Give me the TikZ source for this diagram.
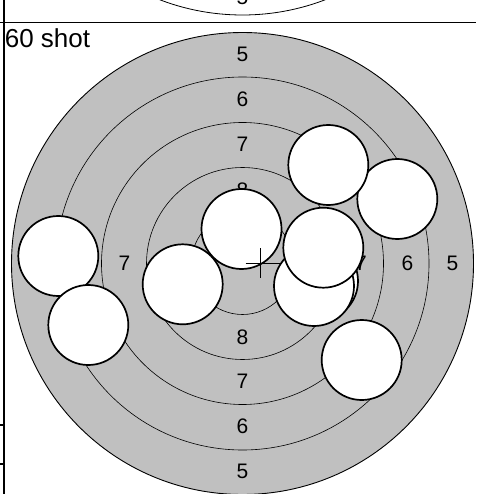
\documentclass[tikz,border=0pt]{standalone}
\usepackage{fontspec}
\setmainfont{Liberation Sans}
\usepackage{xcolor}
\usetikzlibrary{positioning}
\definecolor{targetgray}{HTML}{C0C0C0}

\begin{document}
\begin{tikzpicture}[
  x=1pt, y=-1pt,
  ring/.style={draw, line width=0.6pt},
  shot/.style={circle, draw, fill=white, line width=1.7pt, minimum size=80pt, inner sep=0pt},
  lbl/.style={font=\fontsize{21}{21}\selectfont, inner sep=0pt},
  panelrule/.style={line width=1.2pt},
  crosshair/.style={line width=1pt},
]
\clip (0,0) rectangle (476,494);
\coordinate (prev) at (242.5,-216);
\coordinate (centre) at (242.5,263.5);
% previous panel
\draw[line width=0.8pt] (prev) circle (231pt);
\node[lbl] (p5) at (242.5,-3) {5};
\draw[panelrule] (0,22.7) -- (476,22.7);
\draw[panelrule] (4,0) -- (4,494);
\draw[panelrule] (0,425) -- (4,425);
\draw[panelrule] (0,464) -- (4,464);
\node[font=\fontsize{26}{26}\selectfont, inner sep=0pt, anchor=base west] (title) at (4.6,47.7) {60 shot};
% target
\fill[targetgray] (centre) circle (231pt);
\draw[line width=0.9pt] (centre) circle (231pt);
\draw[ring] (centre) circle (186.5pt);
\draw[ring] (centre) circle (141pt);
\draw[ring] (centre) circle (96pt);
\draw[ring] (centre) circle (51pt);
\node[lbl] (n5) at (242.5,54) {5};
\node[lbl] (n6) at (242.5,99) {6};
\node[lbl] (n7) at (242.5,144) {7};
\node[lbl] (n8) at (242.5,190) {8};
\node[lbl] (s8) at (242.5,337) {8};
\node[lbl] (s7) at (242.5,381) {7};
\node[lbl] (s6) at (242.5,426) {6};
\node[lbl] (s5) at (242.5,471) {5};
\node[lbl] (w5) at (33,263.5) {5};
\node[lbl] (w6) at (78,263.5) {6};
\node[lbl] (w7) at (124.5,263.5) {7};
\node[lbl] (w8) at (169,263.5) {8};
\node[lbl] (e8) at (316,263.5) {8};
\node[lbl] (e7) at (361,263.5) {7};
\node[lbl] (e6) at (407.5,263.5) {6};
\node[lbl] (e5) at (452.5,263.5) {5};
% shots
\node[shot] (hitA) at (58.3,256) {};
\node[shot] (hitB) at (88.3,325) {};
\node[shot] (hitC) at (241.5,229) {};
\node[shot] (hitD) at (182.7,284.3) {};
\draw[crosshair] (260.5,248) -- (260.5,278);
\draw[crosshair] (245.5,263) -- (280,263);
\node[shot] (hitE) at (318,281) {};
\node[shot] (hitF) at (314,286) {};
\node[shot] (hitG) at (323.3,247.7) {};
\node[shot] (hitH) at (397.3,199) {};
\node[shot] (hitI) at (328.3,165) {};
\node[shot] (hitJ) at (361.7,360) {};
\end{tikzpicture}
\end{document}
